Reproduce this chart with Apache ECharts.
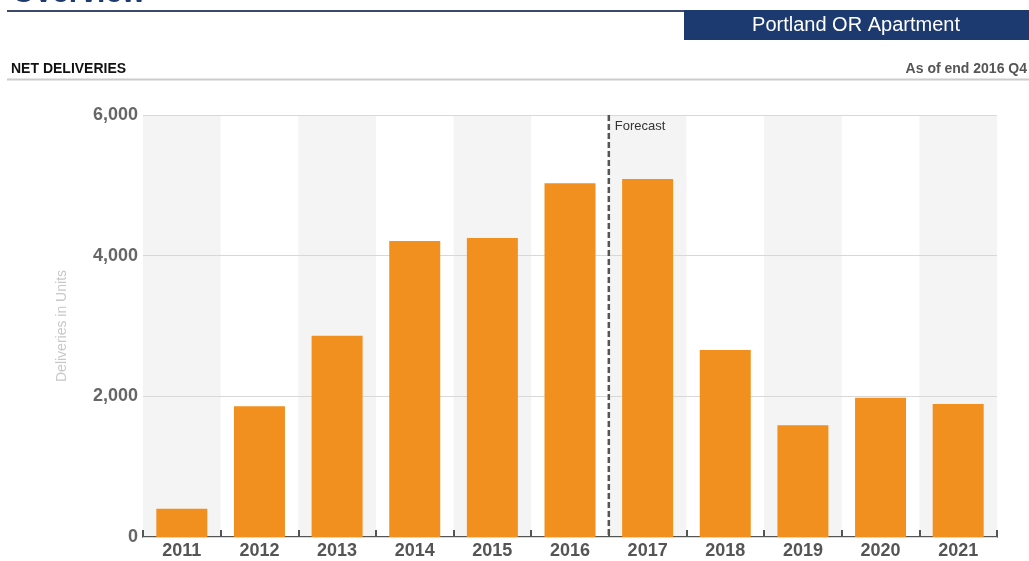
<!DOCTYPE html>
<html>
<head>
<meta charset="utf-8">
<title>Net Deliveries - Portland OR Apartment</title>
<script src="https://cdn.jsdelivr.net/npm/echarts@6/dist/echarts.min.js"></script>
<style>
  html, body { margin: 0; padding: 0; background: #ffffff; }
  #chart { width: 1029px; height: 561px; }
</style>
</head>
<body>
<div id="chart"></div>
<script>
// Annual net apartment deliveries (units); 2017 onward is forecast
const years = ['2011', '2012', '2013', '2014', '2015', '2016', '2017', '2018', '2019', '2020', '2021'];
const deliveries = [400, 1860, 2860, 4210, 4250, 5030, 5090, 2660, 1590, 1980, 1890];
const yTicks = [0, 2000, 4000, 6000];
const firstForecastYear = '2017';

const FONT = '"Liberation Sans", Arial, sans-serif';
const chart = echarts.init(document.getElementById('chart'));

const option = {
  animation: false,
  backgroundColor: '#ffffff',
  grid: { left: 143, right: 32, top: 115, bottom: 24, containLabel: false },
  xAxis: {
    type: 'category',
    data: years,
    boundaryGap: true,
    z: 0,
    axisLine: { show: true, lineStyle: { color: '#555555', width: 2 } },
    axisTick: { show: true, inside: true, length: 7, lineStyle: { color: '#555555', width: 2 } },
    axisLabel: { color: '#555555', fontFamily: FONT, fontWeight: 'bold', fontSize: 18, margin: 5 },
    splitLine: { show: false },
    splitArea: { show: true, areaStyle: { color: ['#f4f4f4', 'rgba(255,255,255,0)'] } }
  },
  yAxis: {
    type: 'value',
    min: yTicks[0],
    max: yTicks[yTicks.length - 1],
    interval: yTicks[1] - yTicks[0],
    z: 1,
    name: 'Deliveries in Units',
    nameLocation: 'middle',
    nameGap: 74,
    nameTextStyle: { color: '#c8c8c8', fontFamily: FONT, fontSize: 14 },
    axisLine: { show: false },
    axisTick: { show: false },
    axisLabel: {
      color: '#666666', fontFamily: FONT, fontWeight: 'bold', fontSize: 18, margin: 5,
      formatter: v => v.toLocaleString('en-US')
    },
    splitLine: { show: true, lineStyle: { color: '#d8d8d8', width: 1 } }
  },
  series: [{
    type: 'bar',
    data: deliveries,
    barWidth: 51,
    itemStyle: { color: '#f2901f' },
    z: 3
  }]
};
chart.setOption(option);

// Forecast divider sits on the boundary between the last actual and first forecast year
const idx = years.indexOf(firstForecastYear);
const xPrev = chart.convertToPixel({ xAxisIndex: 0 }, years[idx - 1]);
const xNext = chart.convertToPixel({ xAxisIndex: 0 }, years[idx]);
const xDiv = (xPrev + xNext) / 2;
const yTop = chart.convertToPixel({ yAxisIndex: 0 }, yTicks[yTicks.length - 1]);
const yBottom = chart.convertToPixel({ yAxisIndex: 0 }, yTicks[0]);

chart.setOption({
  graphic: [
    // page heading, mostly above the top edge
    { type: 'text', x: 12, y: 9, z: 10,
      style: { text: 'Overview', fill: '#1f3a6e', font: 'bold 30px ' + FONT,
               textAlign: 'left', textVerticalAlign: 'bottom' } },
    { type: 'line', z: 10,
      shape: { x1: 7, y1: 11, x2: 684, y2: 11 },
      style: { stroke: '#3d4b6b', lineWidth: 2 } },
    { type: 'rect', z: 10,
      shape: { x: 684, y: 10, width: 345, height: 30 },
      style: { fill: '#1c3a70' } },
    { type: 'text', x: 856, y: 25, z: 11,
      style: { text: 'Portland OR Apartment', fill: '#ffffff', font: '20px ' + FONT,
               textAlign: 'center', textVerticalAlign: 'middle' } },
    { type: 'text', x: 11, y: 69, z: 10,
      style: { text: 'NET DELIVERIES', fill: '#111111', font: 'bold 14px ' + FONT,
               textAlign: 'left', textVerticalAlign: 'middle' } },
    { type: 'text', x: 1027, y: 69, z: 10,
      style: { text: 'As of end 2016 Q4', fill: '#555555', font: 'bold 14px ' + FONT,
               textAlign: 'right', textVerticalAlign: 'middle' } },
    { type: 'line', z: 10,
      shape: { x1: 7, y1: 79.5, x2: 1029, y2: 79.5 },
      style: { stroke: '#cccccc', lineWidth: 2 } },
    // forecast divider
    { type: 'line', z: 20,
      shape: { x1: xDiv, y1: yTop, x2: xDiv, y2: yBottom },
      style: { stroke: '#555555', lineWidth: 2.5, lineDash: [6, 3] } },
    { type: 'text', x: xDiv + 6, y: yTop + 11, z: 20,
      style: { text: 'Forecast', fill: '#333333', font: '13px ' + FONT,
               textAlign: 'left', textVerticalAlign: 'middle' } }
  ]
});
</script>
</body>
</html>
